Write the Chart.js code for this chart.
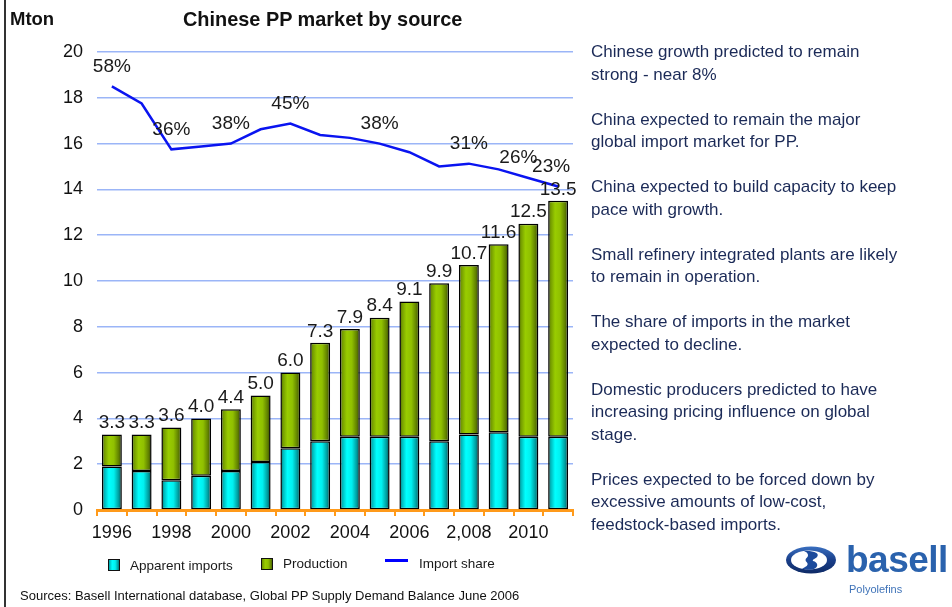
<!DOCTYPE html>
<html>
<head>
<meta charset="utf-8">
<title>Chinese PP market by source</title>
<script src="https://cdn.jsdelivr.net/npm/chart.js@4.4.1/dist/chart.umd.min.js"></script>
<style>
  html, body { margin: 0; padding: 0; background: #fff; }
  body { width: 952px; height: 607px; position: relative; overflow: hidden;
         font-family: "Liberation Sans", Arial, sans-serif; }
  #c { position: absolute; left: 0; top: 0; }
  .frame { position: absolute; left: 4px; top: 0; width: 2px; height: 607px; background: #333; }
  .unit { position: absolute; left: 10px; top: 8px; font-weight: bold; font-size: 18.5px; color: #111; }
  .title { position: absolute; left: 183px; top: 8px; font-weight: bold; font-size: 19.9px; color: #111; white-space: nowrap; }
  .notes { position: absolute; left: 591px; top: 41px; width: 361px; color: #1b2a57; font-size: 17px; line-height: 22.5px; white-space: nowrap; }
  .notes p { margin: 0 0 22.5px 0; }
  .src { position: absolute; left: 20px; top: 588px; font-size: 13px; color: #111; white-space: nowrap; }
  .logo { position: absolute; left: 784px; top: 540px; width: 56px; height: 40px; }
  .brand { position: absolute; left: 846px; top: 539px; font-weight: bold; font-size: 37px; color: #2a62ad; letter-spacing: -0.5px; }
  .sub { position: absolute; left: 849px; top: 583px; font-size: 11px; color: #3f73b8; }
</style>
</head>
<body>
<canvas id="c" width="952" height="607"></canvas>
<div class="frame"></div>
<div class="unit">Mton</div>
<div class="title">Chinese PP market by source</div>
<div class="notes">
  <p>Chinese growth predicted to remain<br>strong - near 8%</p>
  <p>China expected to remain the major<br>global import market for PP.</p>
  <p>China expected to build capacity to keep<br>pace with growth.</p>
  <p>Small refinery integrated plants are likely<br>to remain in operation.</p>
  <p>The share of imports in the market<br>expected to decline.</p>
  <p>Domestic producers predicted to have<br>increasing pricing influence on global<br>stage.</p>
  <p>Prices expected to be forced down by<br>excessive amounts of low-cost,<br>feedstock-based imports.</p>
</div>
<div class="src">Sources: Basell International database, Global PP Supply Demand Balance June 2006</div>
<svg class="logo" viewBox="0 0 56 40" xmlns="http://www.w3.org/2000/svg">
  <defs>
    <linearGradient id="ring" x1="0" y1="0" x2="0" y2="1">
      <stop offset="0" stop-color="#3a6fc0"/>
      <stop offset="0.5" stop-color="#1a3f8a"/>
      <stop offset="1" stop-color="#0e2a66"/>
    </linearGradient>
  </defs>
  <ellipse cx="27" cy="20" rx="25" ry="13.5" fill="url(#ring)"/>
  <ellipse cx="25" cy="20" rx="18" ry="9.5" fill="#ffffff"/>
  <path d="M20 11 C30 10.5 36 13 33 17 C31 19 28 19.5 29 21 C34 22 35 27 30 29 C26 30.5 21 29.5 18 28.5
           C22 27 25 25 23 22.5 C21 21 21 19 23 17.5 C25 15.5 24 12.5 20 11 Z" fill="#1d4b9c"/>
</svg>
<div class="brand">basell</div>
<div class="sub">Polyolefins</div>

<script>
// Years on the category axis and the labels actually printed under it
const years = ['1996','1997','1998','1999','2000','2001','2002','2003',
               '2004','2005','2006','2007','2008','2009','2010','2011'];
const xTickLabels = ['1996','','1998','','2000','','2002','',
                     '2004','','2006','','2,008','','2010',''];

// Market volumes, Mton
const apparentImports = [1.9, 1.7, 1.3, 1.5, 1.7, 2.1, 2.7, 3.0, 3.2, 3.2, 3.2, 3.0, 3.3, 3.4, 3.2, 3.2];
const production      = [1.4, 1.6, 2.3, 2.5, 2.7, 2.9, 3.3, 4.3, 4.7, 5.2, 5.9, 6.9, 7.4, 8.2, 9.3, 10.3];

// Import share of the market, %
const importShare = [58, 52, 36, 37, 38, 43, 45, 41, 40, 38, 35, 30, 31, 29, 26, 23];
// Years whose share is printed next to the line
const shareLabelYears = ['1996','1998','2000','2002','2005','2008','2010','2011'];

const yTicks = [0, 2, 4, 6, 8, 10, 12, 14, 16, 18, 20];

const FONT = '"Liberation Sans", Arial, sans-serif';
const BAR_PCT = 0.67;

const cyanStops = [[0, '#07585a'], [0.12, '#00b3b6'], [0.35, '#00ffff'], [0.6, '#00f0f0'], [0.85, '#009a9c'], [1, '#004c4e']];
const greenStops = [[0, '#364800'], [0.12, '#729900'], [0.35, '#99cc00'], [0.6, '#90c000'], [0.85, '#5f7f00'], [1, '#324300']];

// Horizontal cylinder-style shading, built per bar from its drawn position
const barShading = {
  id: 'barShading',
  beforeDatasetsDraw(chart) {
    const ctx = chart.ctx;
    [[0, cyanStops], [1, greenStops]].forEach(([di, stops]) => {
      chart.getDatasetMeta(di).data.forEach((el) => {
        const g = ctx.createLinearGradient(el.x - el.width / 2, 0, el.x + el.width / 2, 0);
        stops.forEach(([o, c]) => g.addColorStop(o, c));
        const own = Object.create(el.options);
        own.backgroundColor = g;
        el.options = own;
      });
    });
  }
};

// Totals printed above each stacked bar
const totalsLabels = {
  id: 'totalsLabels',
  afterDatasetsDraw(chart) {
    const ctx = chart.ctx;
    const top = chart.getDatasetMeta(1);
    ctx.save();
    ctx.font = '19px ' + FONT;
    ctx.fillStyle = '#1a1a1a';
    ctx.textAlign = 'center';
    ctx.textBaseline = 'bottom';
    years.forEach((y, i) => {
      const el = top.data[i];
      const total = apparentImports[i] + production[i];
      ctx.fillText(total.toFixed(1), el.x, el.y - 2);
    });
    ctx.restore();
  }
};

// Percent labels above the import share line
const shareLabels = {
  id: 'shareLabels',
  afterDatasetsDraw(chart) {
    const ctx = chart.ctx;
    const meta = chart.getDatasetMeta(2);
    const shift = { '2010': -10, '2011': -7 };
    ctx.save();
    ctx.font = '19px ' + FONT;
    ctx.fillStyle = '#1a1a1a';
    ctx.textAlign = 'center';
    ctx.textBaseline = 'middle';
    shareLabelYears.forEach((yr) => {
      const i = years.indexOf(yr);
      const pt = meta.data[i];
      ctx.fillText(importShare[i] + '%', pt.x + (shift[yr] || 0), pt.y - 20);
    });
    ctx.restore();
  }
};

// Legend row under the axis
const legendRow = {
  id: 'legendRow',
  afterDraw(chart) {
    const ctx = chart.ctx;
    ctx.save();
    ctx.font = '13.5px ' + FONT;
    ctx.textBaseline = 'middle';
    const box = (x, y, stops) => {
      const g = ctx.createLinearGradient(x, 0, x + 12, 0);
      stops.forEach(([o, c]) => g.addColorStop(o, c));
      ctx.fillStyle = g;
      ctx.fillRect(x, y, 12, 12);
      ctx.strokeStyle = '#111';
      ctx.lineWidth = 1;
      ctx.strokeRect(x + 0.5, y + 0.5, 11, 11);
    };
    box(108, 559, cyanStops);
    ctx.fillStyle = '#1a1a1a';
    ctx.fillText('Apparent imports', 130, 566);
    box(261, 558, greenStops);
    ctx.fillStyle = '#1a1a1a';
    ctx.fillText('Production', 283, 564);
    ctx.fillStyle = '#0000ff';
    ctx.fillRect(385, 559, 23, 3);
    ctx.fillStyle = '#1a1a1a';
    ctx.fillText('Import share', 419, 564);
    ctx.restore();
  }
};

new Chart(document.getElementById('c'), {
  type: 'bar',
  data: {
    labels: years,
    datasets: [
      {
        label: 'Apparent imports',
        data: apparentImports,
        backgroundColor: '#00ffff',
        borderColor: '#000000',
        borderWidth: 1.5,
        borderSkipped: false,
        barPercentage: BAR_PCT,
        categoryPercentage: 1,
        stack: 'market',
        order: 1
      },
      {
        label: 'Production',
        data: production,
        backgroundColor: '#99cc00',
        borderColor: '#000000',
        borderWidth: 1.5,
        borderSkipped: false,
        barPercentage: BAR_PCT,
        categoryPercentage: 1,
        stack: 'market',
        order: 1
      },
      {
        type: 'line',
        label: 'Import share',
        data: importShare,
        yAxisID: 'y2',
        borderColor: '#0a14f0',
        borderWidth: 2.5,
        pointRadius: 0,
        tension: 0,
        fill: false,
        order: 0
      }
    ]
  },
  options: {
    responsive: false,
    devicePixelRatio: 1,
    animation: false,
    layout: { padding: { left: 0, top: 52, right: 379, bottom: 0 } },
    plugins: { legend: { display: false }, tooltip: { enabled: false }, title: { display: false } },
    scales: {
      x: {
        stacked: true,
        offset: true,
        grid: { display: true, offset: true, drawOnChartArea: false, drawTicks: true,
                tickLength: 6, color: '#ff9a1a', lineWidth: 2 },
        border: { display: true, color: '#ff9a1a', width: 3 },
        ticks: {
          autoSkip: false, maxRotation: 0, minRotation: 0, padding: 6,
          color: '#111', font: { family: FONT, size: 18 },
          callback: (v, i) => xTickLabels[i]
        },
        afterFit: (s) => { s.height = 97; }
      },
      y: {
        stacked: true,
        min: 0, max: 20,
        afterBuildTicks: (s) => { s.ticks = yTicks.map(v => ({ value: v })); },
        grid: { color: '#9bb5f7', lineWidth: 1.6, drawTicks: false },
        border: { display: false },
        ticks: { padding: 14, color: '#111', font: { family: FONT, size: 18 } },
        afterFit: (s) => { s.width = 97; }
      },
      y2: {
        display: false,
        min: -90, max: 70
      }
    }
  },
  plugins: [barShading, totalsLabels, shareLabels, legendRow]
});
</script>
</body>
</html>
